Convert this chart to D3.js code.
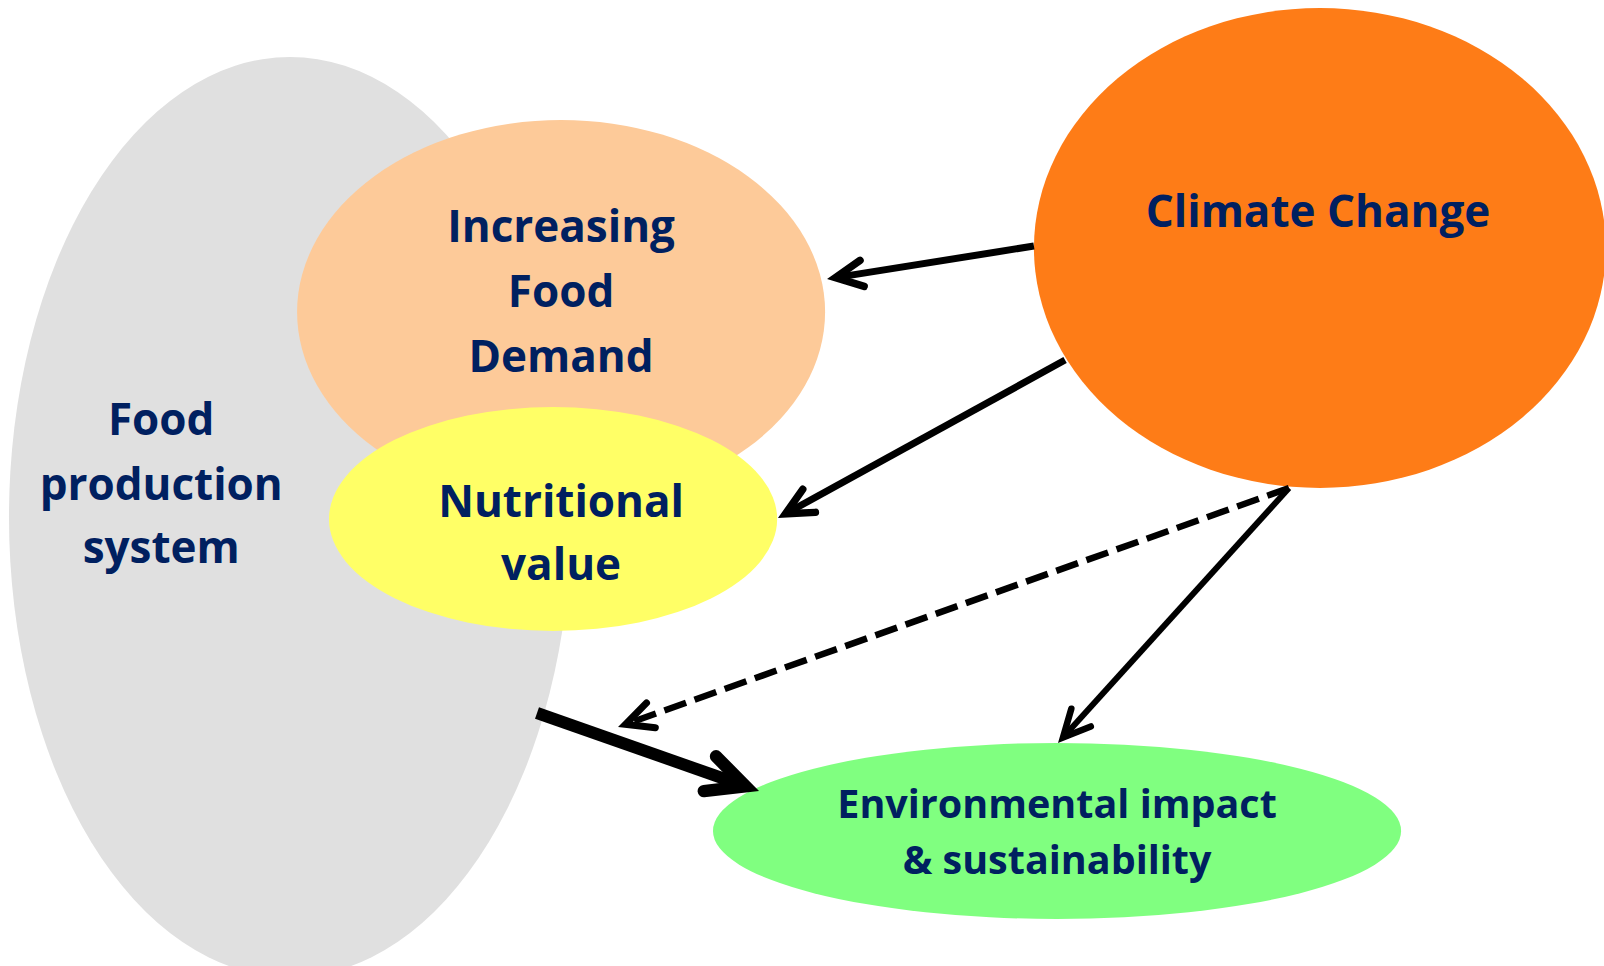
<!DOCTYPE html>
<html>
<head>
<meta charset="utf-8">
<script src="https://cdn.jsdelivr.net/npm/d3@7"></script>
<style>
  html, body { margin: 0; padding: 0; background: #ffffff; }
  svg { display: block; }
</style>
</head>
<body>
<div id="chart"></div>
<script>
/* Food system diagram drawn with D3 */

//Node names and their text lines
var nodeNames = ["food", "demand", "nutrition", "climate", "environment"];
var nodeLines = [
    ["Food", "production", "system"],
    ["Increasing", "Food", "Demand"],
    ["Nutritional", "value"],
    ["Climate Change"],
    ["Environmental impact", "& sustainability"]
];

//Links between nodes: source, target, kind
var linkSources = ["climate", "climate", "climate", "climate", "food"];
var linkTargets = ["demand", "nutrition", "food", "environment", "environment"];
var linkKinds = ["solid", "solid", "dashed", "solid", "thick"];

//set up the page size
var width = 1604, height = 966;

//layout space is a 0-100 grid on both axes
var x = d3.scaleLinear().domain([0, 100]).range([0, width]);
var y = d3.scaleLinear().domain([0, 100]).range([0, height]);

//ellipse layout (grid units), kept apart from the data
var layout = {
    food:        {cx: 18.08, cy: 53.52, rx: 17.52, ry: 47.62, fill: "#e0e0e0", tx: 10.05, ty: [45.03, 51.76, 58.28], size: 44},
    demand:      {cx: 34.98, cy: 32.30, rx: 16.46, ry: 19.88, fill: "#fdca99", tx: 34.98, ty: [25.05, 31.78, 38.51], size: 44},
    nutrition:   {cx: 34.48, cy: 53.73, rx: 13.97, ry: 11.59, fill: "#ffff66", tx: 34.98, ty: [53.52, 60.04], size: 44},
    climate:     {cx: 82.29, cy: 25.67, rx: 17.83, ry: 24.84, fill: "#fe7c17", tx: 82.17, ty: [23.50], size: 44},
    environment: {cx: 65.90, cy: 86.02, rx: 21.45, ry: 9.11, fill: "#80ff80", tx: 65.90, ty: [84.68, 90.48], size: 39.5}
};

//arrow end points (grid units): start and outer tip
var arrowGeom = [
    {x1: 64.46, y1: 25.47, x2: 51.56, y2: 28.88, w: 7, head: 30},
    {x1: 66.40, y1: 37.27, x2: 48.50, y2: 53.62, w: 7, head: 30},
    {x1: 80.36, y1: 50.52, x2: 38.53, y2: 75.26, w: 6.5, head: 30},
    {x1: 80.36, y1: 50.52, x2: 65.96, y2: 76.92, w: 6, head: 30},
    {x1: 33.48, y1: 73.81, x2: 47.32, y2: 81.88, w: 12, head: 42}
];

var spread = 26 * Math.PI / 180;

var svg = d3.select("#chart").append("svg")
    .attr("width", width)
    .attr("height", height);

//draw the ellipses in order
svg.selectAll("ellipse")
    .data(nodeNames)
    .enter()
    .append("ellipse")
    .attr("cx", function(d){ return x(layout[d].cx); })
    .attr("cy", function(d){ return y(layout[d].cy); })
    .attr("rx", function(d){ return x(layout[d].rx); })
    .attr("ry", function(d){ return y(layout[d].ry); })
    .style("fill", function(d){ return layout[d].fill; });

//work out pixel ends, pulling the chevron vertex back so the miter point lands on the tip
var arrowData = linkSources.map(function(s, i){
    var g = arrowGeom[i];
    var sx = x(g.x1), sy = y(g.y1), ex = x(g.x2), ey = y(g.y2);
    var ang = Math.atan2(sy - ey, sx - ex);
    var back = ((g.w + 0.5) / 2) / Math.sin(spread);
    return {
        source: s, target: linkTargets[i], kind: linkKinds[i], geom: g,
        sx: sx, sy: sy, ang: ang,
        vx: ex + back * Math.cos(ang), vy: ey + back * Math.sin(ang)
    };
});

var arrows = svg.selectAll("g.arrow")
    .data(arrowData)
    .enter()
    .append("g")
    .attr("class", "arrow");

arrows.append("line")
    .attr("x1", function(d){ return d.sx; })
    .attr("y1", function(d){ return d.sy; })
    .attr("x2", function(d){ return d.vx; })
    .attr("y2", function(d){ return d.vy; })
    .style("stroke", "#000")
    .style("stroke-width", function(d){ return d.geom.w; })
    .style("stroke-dasharray", function(d){ return d.kind == "dashed" ? "23,9" : null; });

//open chevron head at the tip
arrows.append("path")
    .attr("d", function(d){
        var h = d.geom.head;
        var a = [d.vx + h * Math.cos(d.ang - spread), d.vy + h * Math.sin(d.ang - spread)];
        var b = [d.vx + h * Math.cos(d.ang + spread), d.vy + h * Math.sin(d.ang + spread)];
        return "M" + a + "L" + [d.vx, d.vy] + "L" + b;
    })
    .style("fill", "none")
    .style("stroke", "#000")
    .style("stroke-width", function(d){ return d.geom.w + 0.5; })
    .style("stroke-linecap", "round")
    .style("stroke-linejoin", "miter")
    .style("stroke-miterlimit", 10);

//labels
nodeNames.forEach(function(name, i){
    var L = layout[name];
    svg.append("text")
        .attr("text-anchor", "middle")
        .style("font-family", "'Open Sans', sans-serif")
        .style("font-weight", "bold")
        .style("font-size", L.size + "px")
        .style("fill", "#002060")
        .selectAll("tspan")
        .data(nodeLines[i])
        .enter()
        .append("tspan")
        .attr("x", x(L.tx))
        .attr("y", function(d, j){ return y(L.ty[j]); })
        .text(function(d){ return d; });
});
</script>
</body>
</html>
